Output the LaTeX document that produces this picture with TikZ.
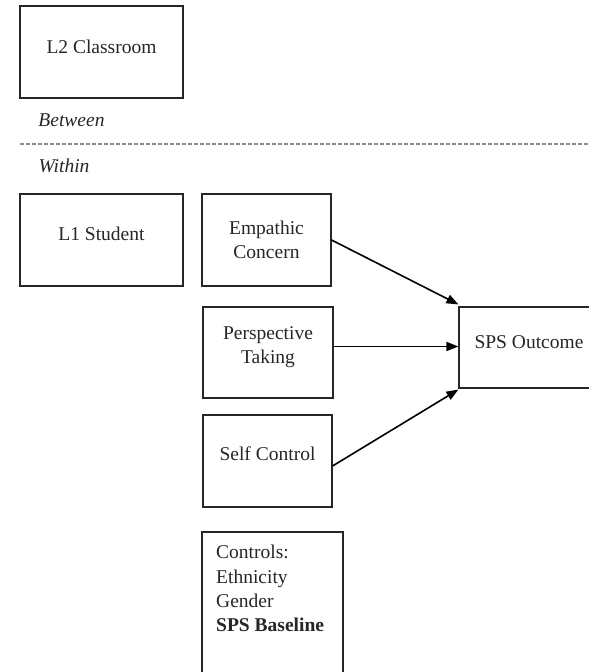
\documentclass[tikz,border=0pt]{standalone}
\usepackage{fontspec}
\setmainfont{Liberation Serif}
\usetikzlibrary{arrows.meta}
\tikzset{
  box/.style={draw=black!85, line width=1.1pt, rectangle, inner sep=0pt},
  lbl/.style={font=\fontsize{19.5}{23.5}\selectfont, inner sep=0pt, align=center, text=black!85},
  ital/.style={font=\fontsize{19.5}{23.5}\selectfont\itshape, inner sep=0pt, text=black!85},
  arr/.style={line width=1.6pt, draw=black, -{Triangle[length=12pt,width=9pt]}}
}
\begin{document}
\begin{tikzpicture}[x=1pt,y=-1pt]
\useasboundingbox (0,0) rectangle (589,672);
\clip (0,0) rectangle (589,672);
% boxes
\node[box, minimum width=163pt, minimum height=92pt] (l2) at (101.5,52) {};
\node[box, minimum width=163pt, minimum height=92pt] (l1) at (101.5,240) {};
\node[box, minimum width=129pt, minimum height=92pt] (ec) at (266.5,240) {};
\node[box, minimum width=130pt, minimum height=91pt] (pt) at (268,352.5) {};
\node[box, minimum width=129pt, minimum height=92pt] (sc) at (267.5,461) {};
\node[box, minimum width=141pt, minimum height=160pt] (ctl) at (272.5,612) {};
\node[box, minimum width=141pt, minimum height=81pt] (sps) at (529.5,347.5) {};
% texts
\node[lbl] (l2t) at (101.5,47) {L2 Classroom};
\node[lbl] (l1t) at (101.5,234) {L1 Student};
\node[lbl] (ect) at (266.5,240) {Empathic\\Concern};
\node[lbl] (ptt) at (268,347) {Perspective\\Taking};
\node[lbl] (sct) at (267.5,454) {Self Control};
\node[lbl] (spst) at (529,342) {SPS Outcome};
\node[lbl, font=\fontsize{19.5}{24.4}\selectfont, align=left, anchor=north west] (ctlt) at (216,545) {Controls:\\Ethnicity\\Gender\\\textbf{SPS Baseline}};
\node[ital] (btw) at (71.5,120) {Between};
\node[ital] (wth) at (64,166) {Within};
% divider
\coordinate (dl) at (20,144);
\coordinate (dr) at (589,144);
\draw[black!45, line width=1.1pt, dash pattern=on 3.5pt off 2.5pt] (dl) -- (dr);
% arrows
\coordinate (ptout) at ([yshift=6pt]pt.east);
\coordinate (scout) at ([yshift=-5pt]sc.east);
\draw[arr] (ec.east) -- ([yshift=2pt]sps.north west);
\draw[arr] (ptout) -- (ptout -| sps.west);
\draw[arr] (scout) -- ([yshift=-1pt]sps.south west);
\end{tikzpicture}
\end{document}
